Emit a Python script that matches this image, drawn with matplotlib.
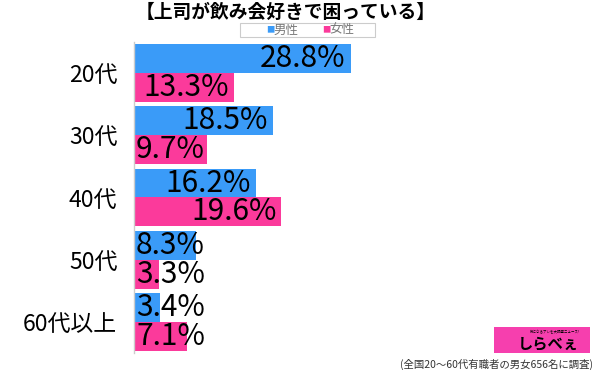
import matplotlib.pyplot as plt
from matplotlib.patches import Rectangle
from matplotlib.transforms import offset_copy
import numpy as np

plt.rcParams['font.family'] = ['Noto Sans CJK JP', 'DejaVu Sans']

categories = ['20代', '30代', '40代', '50代', '60代以上']
male = [28.8, 18.5, 16.2, 8.3, 3.4]
female = [13.3, 9.7, 19.6, 3.3, 7.1]
series_names = ['男性', '女性']
title = '【上司が飲み会好きで困っている】'
note = '(全国20〜60代有職者の男女656名に調査)'

blue = '#3a9bf8'
pink = '#fb3a9b'

fig = plt.figure(figsize=(6, 3.7), dpi=100)
ax = fig.add_axes([134 / 600, 17 / 370, 301 / 600, 311 / 370])

y = np.arange(len(categories))
h = 0.465
ax.barh(y - h / 2, male, height=h, color=blue)
ax.barh(y + h / 2, female, height=h, color=pink)

ax.set_xlim(0, 40)
ax.set_ylim(4.5, -0.5)
ax.set_xticks([])
ax.set_yticks(y)
ax.set_yticklabels(categories, fontsize=16.5)
ax.tick_params(axis='y', length=0, pad=12)
for s in ['top', 'right', 'bottom']:
    ax.spines[s].set_visible(False)
ax.spines['left'].set_color('#cccccc')
ax.spines['left'].set_linewidth(1)

fig.canvas.draw()
r = fig.canvas.get_renderer()
for vals, off in [(male, -h / 2), (female, h / 2)]:
    for i, v in enumerate(vals):
        t = ax.text(v, i + off, f'{v}%', fontsize=21.5, va='center', ha='right',
                    transform=offset_copy(ax.transData, fig=fig, x=-5, y=0, units='dots'))
        w = t.get_window_extent(r).width
        barw = ax.transData.transform((v, 0))[0] - ax.transData.transform((0, 0))[0]
        if w + 5 > barw:
            t.remove()
            ax.text(0, i + off, f'{v}%', fontsize=21.5, va='center', ha='left',
                    transform=offset_copy(ax.transData, fig=fig, x=2, y=0, units='dots'))

fig.text(286 / 600, 1 - 12 / 370, title, ha='center', va='center', fontsize=13.5, fontweight='bold')

# legend box
fig.patches.append(Rectangle((240 / 600, 1 - 37 / 370), 135 / 600, 14 / 370, transform=fig.transFigure,
                             fill=False, edgecolor='#cccccc', linewidth=0.8))
for x0, col, name in [(266, blue, series_names[0]), (322, pink, series_names[1])]:
    fig.text(x0 / 600, 1 - 30 / 370, '■', color=col, fontsize=6, ha='left', va='center')
    fig.text((x0 + 7) / 600, 1 - 30 / 370, name, color='#777777', fontsize=9, ha='left', va='center')

# logo
fig.patches.append(Rectangle((494 / 600, 1 - 353 / 370), 96 / 600, 26 / 370, transform=fig.transFigure,
                             facecolor='#f63fae', edgecolor='none'))
fig.text(548 / 600, 1 - 343 / 370, 'しらべぇ', fontsize=11, fontweight='bold', color='black',
         ha='center', va='center')
fig.text(555 / 600, 1 - 332 / 370, '気になるアレを大調査ニュース!', fontsize=2.5, color='black',
         ha='center', va='center')

fig.text(593 / 600, 1 - 364 / 370, note, fontsize=7.5, ha='right', va='center', color='#333333')

fig.savefig('out.png', dpi=100)
